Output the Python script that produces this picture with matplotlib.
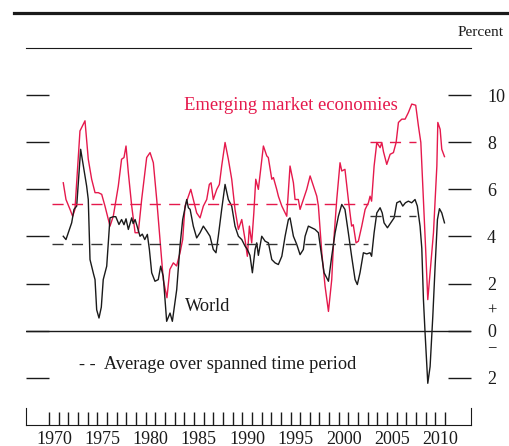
import matplotlib
matplotlib.use("Agg")
import matplotlib.pyplot as plt
from matplotlib.lines import Line2D

plt.rcParams['font.family'] = ['Liberation Serif', 'DejaVu Serif']

# emerging market economies (year, percent)
em_years = [1971.46, 1971.74, 1972.16, 1972.43, 1972.67, 1973.19, 1973.71, 1974.05, 1974.40, 1974.75,
            1975.09, 1975.44, 1975.78, 1976.30, 1976.64, 1977.16, 1977.50, 1977.75, 1977.96, 1978.20,
            1978.55, 1978.90, 1979.23, 1979.58, 1980.10, 1980.45, 1980.79, 1981.14, 1981.48, 1981.82,
            1982.20, 1982.50, 1982.86, 1983.20, 1983.55, 1983.83, 1984.07, 1984.31, 1984.67, 1984.93,
            1985.28, 1985.63, 1985.97, 1986.32, 1986.59, 1986.77, 1987.00, 1987.36, 1987.63, 1987.87,
            1988.22, 1988.56, 1988.91, 1989.25, 1989.60, 1989.95, 1990.29, 1990.53, 1990.74, 1990.98,
            1991.20, 1991.40, 1991.67, 1992.19, 1992.54, 1992.70, 1993.06, 1993.23, 1993.57, 1993.75,
            1994.10, 1994.61, 1994.95, 1995.30, 1995.47, 1995.81, 1995.99, 1996.33, 1996.68, 1997.03,
            1997.37, 1997.72, 1997.89, 1998.24, 1998.58, 1998.93, 1999.27, 1999.44, 1999.79, 2000.13,
            2000.31, 2000.64, 2000.99, 2001.33, 2001.50, 2001.79, 2002.03, 2002.38, 2002.73, 2003.07,
            2003.24, 2003.40, 2003.66, 2003.94, 2004.28, 2004.46, 2004.63, 2004.97, 2005.32, 2005.66,
            2005.94, 2006.18, 2006.53, 2006.87, 2007.21, 2007.56, 2007.97, 2008.25, 2008.50, 2008.77,
            2009.00, 2009.22, 2009.81, 2010.16, 2010.26, 2010.50, 2010.67, 2010.95]
em_vals = [6.28, 5.57, 5.15, 4.86, 5.15, 8.48, 8.91, 7.28, 6.43, 5.86,
           5.86, 5.79, 5.29, 4.44, 4.86, 6.14, 7.28, 7.35, 7.84, 6.71,
           5.29, 4.16, 4.16, 5.57, 7.35, 7.56, 7.13, 5.57, 3.87, 2.17,
           1.40, 2.60, 2.88, 2.75, 3.30, 3.87, 5.29, 5.57, 6.00, 5.57,
           5.00, 4.79, 5.29, 5.57, 6.21, 6.28, 5.57, 6.00, 6.21, 6.99,
           7.99, 7.28, 6.43, 5.15, 4.30, 4.72, 3.87, 3.16, 4.44, 3.73,
           5.00, 6.43, 6.00, 7.84, 7.42, 7.35, 6.43, 6.50, 6.00, 5.70,
           5.29, 4.86, 6.99, 6.28, 5.57, 5.57, 5.15, 5.57, 6.00, 6.57,
           6.14, 5.71, 5.29, 3.31, 1.89, 0.82, 2.17, 3.59, 5.57, 7.13,
           6.78, 6.85, 5.57, 4.44, 4.50, 3.73, 3.80, 4.44, 5.15, 5.43,
           5.71, 5.50, 6.99, 7.99, 7.77, 7.99, 7.60, 7.06, 7.49, 7.56,
           7.99, 8.84, 8.98, 8.98, 9.26, 9.62, 9.57, 8.69, 7.99, 5.57,
           3.45, 1.32, 4.16, 6.99, 8.84, 8.55, 7.70, 7.39]

# world
world_years = [1971.46, 1971.74, 1971.98, 1972.33, 1972.57, 1972.85, 1973.26, 1973.54, 1973.88, 1974.05,
               1974.23, 1974.60, 1974.75, 1974.92, 1975.16, 1975.40, 1975.60, 1975.96, 1976.30, 1976.64,
               1976.90, 1977.23, 1977.50, 1977.75, 1977.96, 1978.20, 1978.55, 1978.70, 1978.90, 1979.10,
               1979.41, 1979.65, 1979.90, 1980.17, 1980.38, 1980.62, 1980.96, 1981.30, 1981.55, 1981.82,
               1982.17, 1982.52, 1982.76, 1983.21, 1983.55, 1983.83, 1984.25, 1984.42, 1984.60, 1984.93,
               1985.28, 1985.63, 1985.97, 1986.32, 1986.66, 1987.00, 1987.28, 1987.52, 1987.87, 1988.22,
               1988.56, 1988.91, 1989.25, 1989.60, 1989.95, 1990.29, 1990.53, 1990.80, 1991.05, 1991.33,
               1991.50, 1991.67, 1992.02, 1992.37, 1992.71, 1993.06, 1993.40, 1993.74, 1994.10, 1994.44,
               1994.78, 1994.95, 1995.30, 1995.65, 1995.99, 1996.33, 1996.51, 1996.85, 1997.20, 1997.54,
               1997.89, 1998.13, 1998.48, 1998.93, 1999.27, 1999.62, 1999.96, 2000.31, 2000.64, 2000.99,
               2001.33, 2001.69, 2001.92, 2002.20, 2002.55, 2002.90, 2003.24, 2003.40, 2003.66, 2003.94,
               2004.28, 2004.50, 2004.69, 2005.04, 2005.38, 2005.73, 2006.01, 2006.35, 2006.63, 2006.90,
               2007.21, 2007.55, 2007.90, 2008.14, 2008.42, 2008.60, 2008.77, 2008.94, 2009.22, 2009.46,
               2009.74, 2009.98, 2010.22, 2010.43, 2010.67, 2010.95]
world_vals = [4.01, 3.87, 4.16, 4.58, 5.15, 5.29, 7.70, 6.99, 6.14, 5.57,
              3.02, 2.40, 2.17, 0.89, 0.54, 1.00, 2.17, 2.74, 4.79, 4.84,
              4.84, 4.51, 4.72, 4.50, 4.75, 4.30, 4.79, 4.55, 4.72, 4.45,
              4.01, 4.10, 3.87, 4.09, 3.45, 2.46, 2.10, 2.17, 2.74, 2.30,
              0.40, 0.75, 0.40, 1.74, 3.59, 4.72, 5.57, 5.22, 5.15, 4.44,
              3.94, 4.16, 4.44, 4.23, 4.01, 3.45, 3.31, 4.01, 5.15, 6.21,
              5.57, 5.29, 4.44, 4.01, 3.87, 3.59, 3.45, 3.20, 2.46, 3.45,
              3.73, 3.20, 4.01, 3.80, 3.73, 3.02, 2.88, 2.81, 3.16, 4.01,
              4.72, 4.79, 4.01, 3.66, 3.23, 3.45, 4.01, 4.44, 4.37, 4.30,
              4.16, 3.45, 2.46, 2.10, 3.16, 4.16, 4.86, 5.36, 5.15, 4.16,
              3.16, 2.17, 1.96, 2.46, 3.31, 3.26, 3.31, 3.16, 4.16, 5.00,
              5.22, 5.00, 4.58, 4.37, 4.58, 4.79, 5.43, 5.50, 5.29, 5.43,
              5.50, 5.43, 5.57, 5.29, 4.44, 3.50, 1.32, -0.10, -2.23, -1.52,
              0.61, 2.74, 4.72, 5.18, 5.00, 4.58]

# averages over the two spans
avg_periods = [(1970.25, 2003.0), (2003.25, 2008.0)]
em_avg = [5.39, 8.01]
world_avg = [3.70, 4.86]

ytick_vals = [-2, 0, 2, 4, 6, 8, 10]
ytick_labels = ['2', '0', '2', '4', '6', '8', '10']
year_labels = [1970, 1975, 1980, 1985, 1990, 1995, 2000, 2005, 2010]

red = '#e5194c'
ink = '#1a1a1a'

fig = plt.figure(figsize=(5.09, 4.46), dpi=100)
ax = fig.add_axes([0.0511, 0.0471, 0.8743, 0.8453])

ax.plot(em_years, em_vals, color=red, lw=1.0)
ax.plot(world_years, world_vals, color=ink, lw=1.0)
for (x0, x1), ea, wa in zip(avg_periods, em_avg, world_avg):
    ax.plot([x0, x1], [ea, ea], color=red, lw=1.0, ls=(0, (8, 6)))
    ax.plot([x0, x1], [wa, wa], color='#333333', lw=1.0, ls=(0, (8, 6)))
ax.axhline(0, color=ink, lw=1.0)

ax.set_xlim(1967.6, 2013.7)
ax.set_ylim(-4, 12)

# spines: top rule, bottom axis, short end stubs
for s in ['left', 'right']:
    ax.spines[s].set_bounds(-4, -3.28)
    ax.spines[s].set_color(ink)
ax.spines['top'].set_color(ink)
ax.spines['bottom'].set_color(ink)

ax.set_yticks(ytick_vals)
ax.set_yticklabels(ytick_labels)
ax.tick_params(axis='y', which='major', direction='in', length=16.5, width=1.0,
               left=True, right=True, labelleft=False, labelright=True,
               labelsize=13, pad=11.5, colors=ink)

ax.set_xticks(range(1970, 2012))
ax.set_xticklabels([])
ax.set_xticks([y + 0.5 for y in year_labels], minor=True)
ax.set_xticklabels([str(y) for y in year_labels], minor=True)
ax.tick_params(axis='x', which='major', direction='in', length=9.5, width=1.0, colors=ink)
ax.tick_params(axis='x', which='minor', length=0, labelsize=13, pad=4, colors=ink)

# + and - around the zero label
ax.text(1.036, 0.5, '+', transform=ax.get_yaxis_transform(), fontsize=12,
        ha='left', va='bottom', color=ink)
ax.text(1.036, -0.42, '\u2212', transform=ax.get_yaxis_transform(), fontsize=12,
        ha='left', va='top', color=ink)

ax.text(1984.0, 9.57, 'Emerging market economies', color=red, fontsize=13.4,
        ha='left', va='center')
ax.text(1984.1, 1.03, 'World', color=ink, fontsize=13.2, ha='left', va='center')
ax.text(1973.1, -1.45, '- -  Average over spanned time period', color=ink, fontsize=13.2,
        ha='left', va='center')

fig.text(504 / 509, 1 - 33 / 446, 'Percent', fontsize=11, ha='right', va='center', color=ink)
fig.add_artist(Line2D([14 / 509, 1.0], [1 - 13 / 446, 1 - 13 / 446], color=ink, lw=2.3))

fig.savefig('out.png', dpi=100)
